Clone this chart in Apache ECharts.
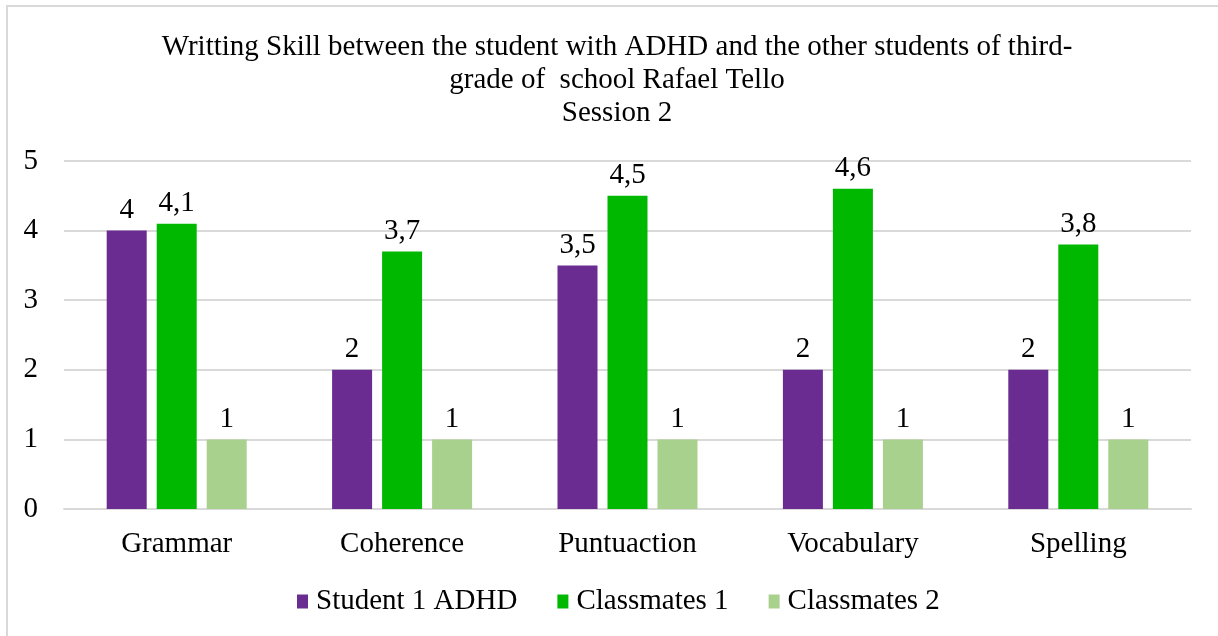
<!DOCTYPE html>
<html>
<head>
<meta charset="utf-8">
<script src="https://cdn.jsdelivr.net/npm/echarts@6/dist/echarts.min.js"></script>
<style>
  html, body { margin: 0; padding: 0; background: #fff; }
  #chart { width: 1218px; height: 636px; }
</style>
</head>
<body>
<div id="chart"></div>
<script>
const categories = ['Grammar', 'Coherence', 'Puntuaction', 'Vocabulary', 'Spelling'];
const student1 = [4, 2, 3.5, 2, 2];
const classmates1 = [4.1, 3.7, 4.5, 4.6, 3.8];
const classmates2 = [1, 1, 1, 1, 1];
const yTicks = [0, 1, 2, 3, 4, 5];

const font = '"Liberation Serif", "Times New Roman", serif';
const fmt = p => String(p.value).replace('.', ',');

const chart = echarts.init(document.getElementById('chart'), null, { renderer: 'canvas' });

function bar(name, data, color) {
    return {
        name: name,
        type: 'bar',
        data: data,
        barWidth: 40,
        barGap: '25%',
        itemStyle: { color: color },
        label: {
            show: true,
            position: 'top',
            distance: 6,
            fontFamily: font,
            fontSize: 29,
            color: '#000',
            formatter: fmt
        }
    };
}

chart.setOption({
    backgroundColor: '#ffffff',
    animation: false,
    graphic: [{
        type: 'rect',
        shape: { x: 7, y: 6, width: 1300, height: 700 },
        style: { fill: 'none', stroke: '#d9d9d9', lineWidth: 2 },
        silent: true
    }],
    title: {
        text: 'Writting Skill between the student with ADHD and the other students of third-\ngrade of  school Rafael Tello\nSession 2',
        left: 612,
        textAlign: 'center',
        top: 26,
        textStyle: {
            fontFamily: font,
            fontSize: 29,
            fontWeight: 'normal',
            color: '#000',
            lineHeight: 33
        }
    },
    legend: {
        bottom: 15,
        left: 292,
        itemWidth: 11,
        itemHeight: 14,
        itemGap: 40,
        icon: 'rect',
        textStyle: { fontFamily: font, fontSize: 29, color: '#000', padding: [0, 0, 0, 3] },
        data: ['Student 1 ADHD', 'Classmates 1', 'Classmates 2']
    },
    grid: { left: 64, right: 27, top: 161, bottom: 127 },
    xAxis: {
        type: 'category',
        data: categories,
        axisLine: { lineStyle: { color: '#d9d9d9', width: 2 } },
        axisTick: { show: false },
        axisLabel: { fontFamily: font, fontSize: 29, color: '#000', margin: 21 }
    },
    yAxis: {
        type: 'value',
        min: yTicks[0],
        max: yTicks[yTicks.length - 1],
        interval: 1,
        axisLine: { show: false },
        axisTick: { show: false },
        axisLabel: { fontFamily: font, fontSize: 29, color: '#000', margin: 26 },
        splitLine: { lineStyle: { color: '#d9d9d9', width: 2 } }
    },
    series: [
        bar('Student 1 ADHD', student1, '#6A2C91'),
        bar('Classmates 1', classmates1, '#00B800'),
        bar('Classmates 2', classmates2, '#A9D18E')
    ]
});
</script>
</body>
</html>
